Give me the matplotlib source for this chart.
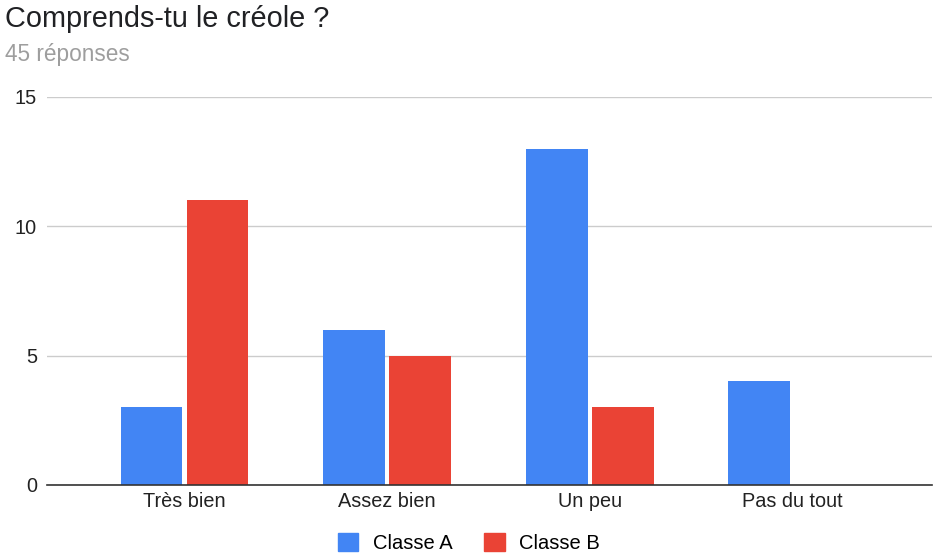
import numpy as np
import matplotlib
matplotlib.use("Agg")
import matplotlib.pyplot as plt
from matplotlib.patches import Patch

# Data
categories = ["Très bien", "Assez bien", "Un peu", "Pas du tout"]
classe_a = [3, 6, 13, 4]
classe_b = [11, 5, 3, 0]
series_names = ["Classe A", "Classe B"]
colors = ["#4285F4", "#EA4335"]
y_ticks = [0, 5, 10, 15]

plt.rcParams['font.family'] = ['Liberation Sans', 'DejaVu Sans']

fig = plt.figure(figsize=(9.34, 5.53), dpi=100)
ax = fig.add_axes([0.050, 0.123, 0.948, 0.702])

x = np.arange(len(categories))
w = 0.305
ax.bar(x - 0.163, classe_a, width=w, color=colors[0], zorder=3)
ax.bar(x + 0.163, classe_b, width=w, color=colors[1], zorder=3)

ax.set_xlim(-0.68, 3.69)
ax.set_ylim(0, 15)
ax.set_yticks(y_ticks)
ax.set_xticks(x)
ax.set_xticklabels(categories, fontsize=14.3, color="#222222")
ax.tick_params(axis='y', labelsize=14.3, colors="#222222", length=0, pad=7)
ax.tick_params(axis='x', length=0, pad=5)
ax.grid(axis='y', color="#cccccc", linewidth=1, zorder=0)
for s in ["top", "right", "left"]:
    ax.spines[s].set_visible(False)
ax.spines["bottom"].set_color("#333333")
ax.spines["bottom"].set_linewidth(1.2)
ax.spines["bottom"].set_zorder(4)

fig.text(0.005, 0.965, "Comprends-tu le créole ?", fontsize=20.8, color="#202124", va="center")
fig.text(0.005, 0.902, "45 réponses", fontsize=16.3, color="#9e9e9e", va="center")

handles = [Patch(color=c, label=n) for c, n in zip(colors, series_names)]
fig.legend(handles=handles, loc="center", bbox_to_anchor=(0.502, 0.018), ncol=2,
           frameon=False, fontsize=14.5, handlelength=1.0, handleheight=1.0,
           columnspacing=1.6, handletextpad=0.7)

fig.savefig("out.png", dpi=100)
